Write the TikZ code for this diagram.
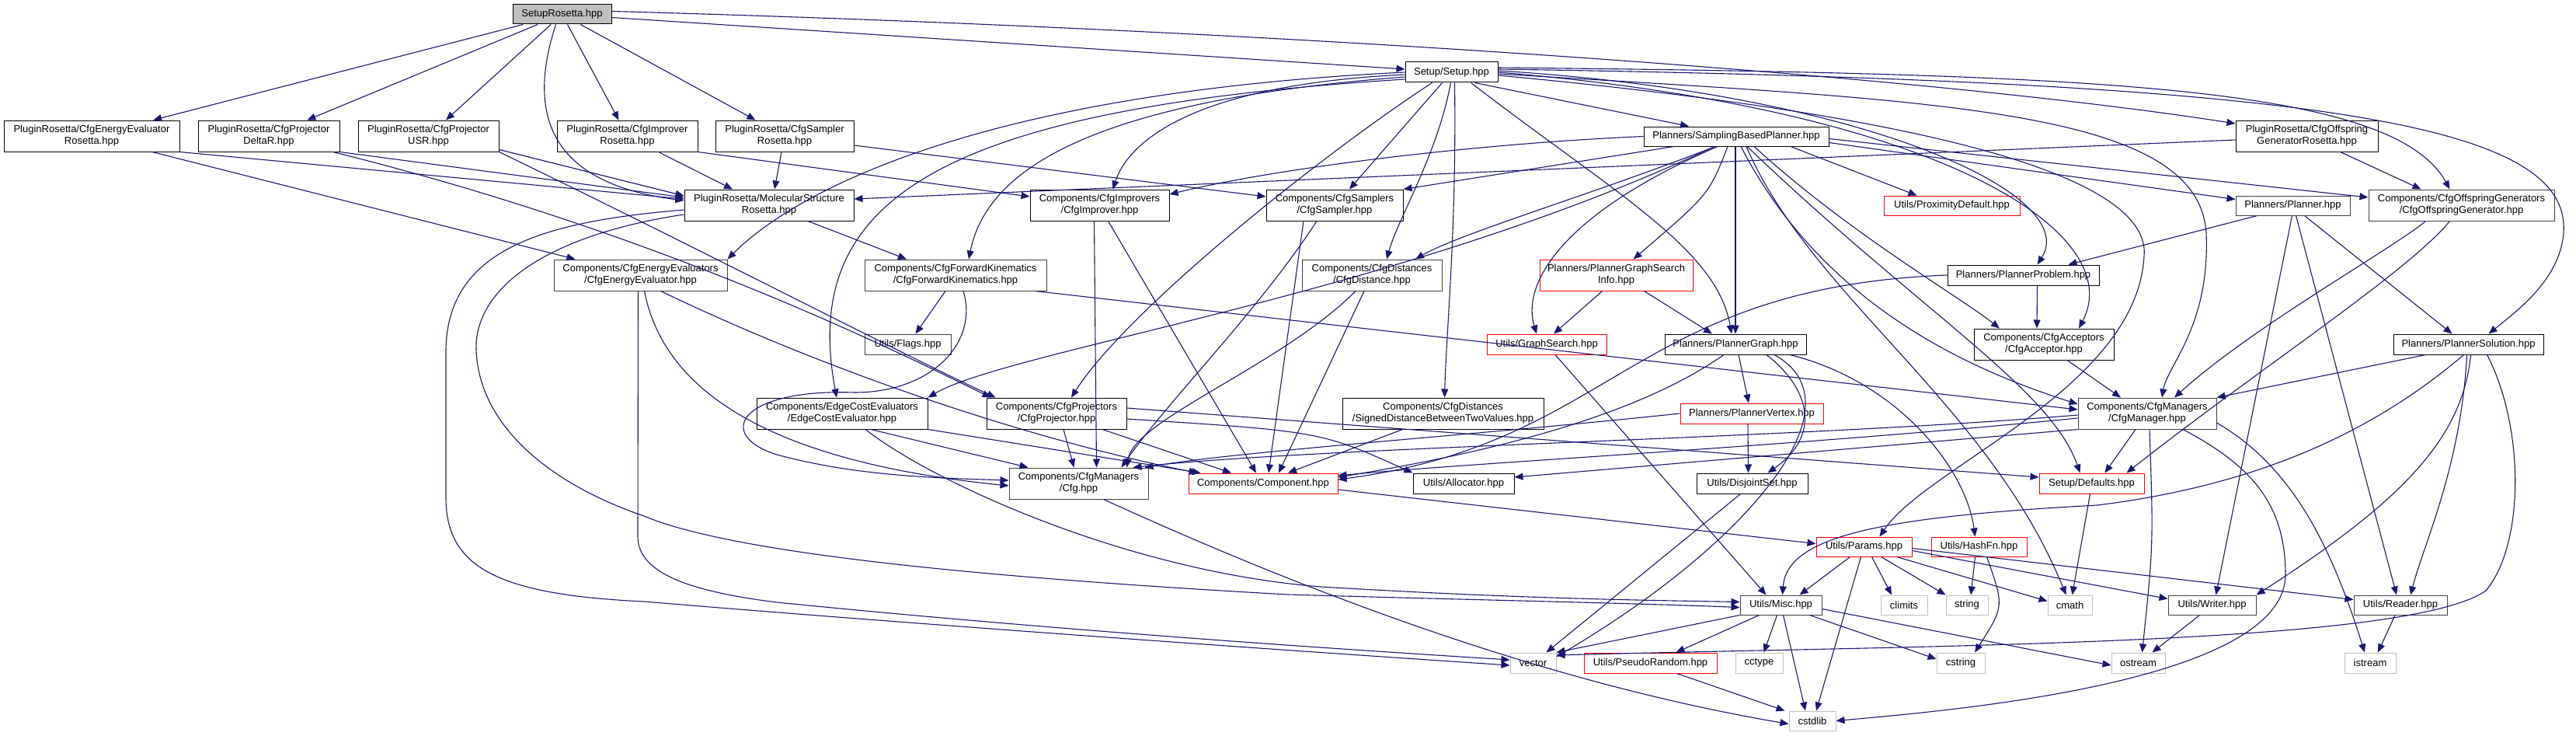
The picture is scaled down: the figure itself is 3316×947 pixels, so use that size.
\documentclass[tikz,border=0pt]{standalone}
\usepackage{fontspec}
\setmainfont{Liberation Sans}
\usetikzlibrary{arrows.meta}
\definecolor{eb}{HTML}{191970}
\definecolor{dg}{HTML}{404040}
\definecolor{lg}{HTML}{BFBFBF}
\definecolor{rd}{HTML}{FF0000}
\begin{document}
\begin{tikzpicture}[x=1pt,y=-1pt,
 nb/.style={draw=black,line width=1pt,fill=white,inner sep=0pt,align=center,font=\fontsize{13}{15}\selectfont},
 gb/.style={nb,draw=dg},
 rb/.style={nb,draw=rd},
 sb/.style={nb,draw=lg},
 e/.style={draw=eb,line width=1.1pt,-{Triangle[length=11pt,width=9pt]}}]
\useasboundingbox (0,0) rectangle (3316,947);
\fill[white] (0,0) rectangle (3316,947);
% nodes
\node[nb,fill=lg,minimum width=127pt,minimum height=25pt] (SR) at (723.5,18.5) {SetupRosetta.hpp};
\node[nb,minimum width=226pt,minimum height=40pt] (ER) at (118,175) {PluginRosetta/CfgEnergyEvaluator\\Rosetta.hpp};
\node[nb,minimum width=182pt,minimum height=40pt] (DR) at (346,175) {PluginRosetta/CfgProjector\\DeltaR.hpp};
\node[nb,minimum width=181pt,minimum height=40pt] (UR) at (551.5,175) {PluginRosetta/CfgProjector\\USR.hpp};
\node[nb,minimum width=181pt,minimum height=40pt] (IR) at (807.5,175) {PluginRosetta/CfgImprover\\Rosetta.hpp};
\node[nb,minimum width=178pt,minimum height=40pt] (SaR) at (1010,175) {PluginRosetta/CfgSampler\\Rosetta.hpp};
\node[nb,minimum width=183pt,minimum height=40pt] (OGR) at (2969.5,175) {PluginRosetta/CfgOffspring\\GeneratorRosetta.hpp};
\node[nb,minimum width=119pt,minimum height=26pt] (SU) at (1868.5,93) {Setup/Setup.hpp};
\node[nb,minimum width=218pt,minimum height=40pt] (MS) at (990,264) {PluginRosetta/MolecularStructure\\Rosetta.hpp};
\node[nb,minimum width=179pt,minimum height=40pt] (CI) at (1415.5,264) {Components/CfgImprovers\\/CfgImprover.hpp};
\node[nb,minimum width=176pt,minimum height=40pt] (CS) at (1718,264) {Components/CfgSamplers\\/CfgSampler.hpp};
\node[nb,minimum width=238pt,minimum height=25pt] (SBP) at (2235,175.5) {Planners/SamplingBasedPlanner.hpp};
\node[rb,minimum width=175pt,minimum height=25pt] (PD) at (2512.5,264.5) {Utils/ProximityDefault.hpp};
\node[gb,minimum width=147pt,minimum height=25pt] (PL) at (2951.5,264.5) {Planners/Planner.hpp};
\node[gb,minimum width=239pt,minimum height=40pt] (COG) at (3168.5,264) {Components/CfgOffspringGenerators\\/CfgOffspringGenerator.hpp};
\node[gb,minimum width=223pt,minimum height=40pt] (CEE) at (824.5,354) {Components/CfgEnergyEvaluators\\/CfgEnergyEvaluator.hpp};
\node[gb,minimum width=234pt,minimum height=40pt] (CFK) at (1230,354) {Components/CfgForwardKinematics\\/CfgForwardKinematics.hpp};
\node[gb,minimum width=180pt,minimum height=40pt] (CD) at (1766,354) {Components/CfgDistances\\/CfgDistance.hpp};
\node[rb,minimum width=197pt,minimum height=40pt] (PGSI) at (2080.5,354) {Planners/PlannerGraphSearch\\Info.hpp};
\node[nb,minimum width=195pt,minimum height=26pt] (PP) at (2604.5,354) {Planners/PlannerProblem.hpp};
\node[gb,minimum width=111pt,minimum height=26pt] (FL) at (1168.5,443) {Utils/Flags.hpp};
\node[rb,minimum width=154pt,minimum height=26pt] (GS) at (1991,443) {Utils/GraphSearch.hpp};
\node[nb,minimum width=182pt,minimum height=26pt] (PG) at (2234,443) {Planners/PlannerGraph.hpp};
\node[nb,minimum width=180pt,minimum height=40pt] (CA) at (2631,443) {Components/CfgAcceptors\\/CfgAcceptor.hpp};
\node[nb,minimum width=193pt,minimum height=26pt] (PS) at (3177.5,443) {Planners/PlannerSolution.hpp};
\node[nb,minimum width=220pt,minimum height=40pt] (ECE) at (1084,532) {Components/EdgeCostEvaluators\\/EdgeCostEvaluator.hpp};
\node[nb,minimum width=180pt,minimum height=40pt] (CP) at (1360,532) {Components/CfgProjectors\\/CfgProjector.hpp};
\node[nb,minimum width=259pt,minimum height=40pt] (SD) at (1857.5,532) {Components/CfgDistances\\/SignedDistanceBetweenTwoValues.hpp};
\node[rb,minimum width=184pt,minimum height=26pt] (PV) at (2255,532) {Planners/PlannerVertex.hpp};
\node[gb,minimum width=178pt,minimum height=40pt] (CM) at (2764,532) {Components/CfgManagers\\/CfgManager.hpp};
\node[gb,minimum width=179pt,minimum height=40pt] (CFG) at (1388.5,622) {Components/CfgManagers\\/Cfg.hpp};
\node[rb,minimum width=192pt,minimum height=26pt] (CO) at (1626,622) {Components/Component.hpp};
\node[nb,minimum width=130pt,minimum height=26pt] (AL) at (1884,622) {Utils/Allocator.hpp};
\node[nb,minimum width=143pt,minimum height=26pt] (DS) at (2255.5,622) {Utils/DisjointSet.hpp};
\node[rb,minimum width=135pt,minimum height=26pt] (DF) at (2692.5,622) {Setup/Defaults.hpp};
\node[rb,minimum width=123pt,minimum height=25pt] (PA) at (2399.5,703.5) {Utils/Params.hpp};
\node[rb,minimum width=123pt,minimum height=25pt] (HF) at (2547.5,703.5) {Utils/HashFn.hpp};
\node[gb,minimum width=105pt,minimum height=25pt] (MI) at (2292.5,778.5) {Utils/Misc.hpp};
\node[sb,minimum width=60pt,minimum height=25pt] (CL) at (2451,778.5) {climits};
\node[sb,minimum width=54pt,minimum height=25pt] (ST) at (2532,778.5) {string};
\node[sb,minimum width=57pt,minimum height=25pt] (CMa) at (2664.5,778.5) {cmath};
\node[gb,minimum width=113pt,minimum height=25pt] (WR) at (2847.5,778.5) {Utils/Writer.hpp};
\node[gb,minimum width=120pt,minimum height=25pt] (RD) at (3090,778.5) {Utils/Reader.hpp};
\node[sb,minimum width=59pt,minimum height=26pt] (VE) at (1973.5,853) {vector};
\node[rb,minimum width=171pt,minimum height=26pt] (PR) at (2124.5,853) {Utils/PseudoRandom.hpp};
\node[sb,minimum width=61pt,minimum height=26pt] (CC) at (2264.5,853) {cctype};
\node[sb,minimum width=62pt,minimum height=26pt] (CSt) at (2524,853) {cstring};
\node[sb,minimum width=69pt,minimum height=26pt] (OS) at (2752.5,853) {ostream};
\node[sb,minimum width=66pt,minimum height=26pt] (IS) at (3051,853) {istream};
\node[sb,minimum width=60pt,minimum height=25pt] (CSL) at (2333,927.5) {cstdlib};
% SR
\draw[e] (SR) -- (ER);
\draw[e] (SR) -- (DR);
\draw[e] (SR) -- (UR);
\draw[e] (SR) -- (IR);
\draw[e] (SR) -- (SaR);
\draw[e] ([xshift=-8pt]SR.south) .. controls (680,140) and (700,235) .. ([yshift=6pt]MS.west);
\draw[e] ([yshift=-4pt]SR.east) -- ([yshift=4pt]SU.west);
\draw[e] ([yshift=4pt]SR.east) .. controls (1700,40) and (2500,100) .. ([yshift=16pt]OGR.west);
% plugins
\draw[e] (ER.south east) -- ([yshift=8pt]MS.west);
\draw[e] ([xshift=78pt]ER.south) -- ([xshift=-84pt]CEE.north);
\draw[e] (DR.south east) -- ([yshift=10pt]MS.west);
\draw[e] ([xshift=-9pt]DR.south east) .. controls (850,300) and (1150,450) .. ([xshift=6pt]CP.north west);
\draw[e] ([yshift=3pt]UR.south east) -- ([yshift=12pt]MS.west);
\draw[e] (UR.south east) .. controls (900,320) and (1170,460) .. ([xshift=12pt]CP.north west);
\draw[e] ([xshift=40pt]IR.south) -- ([xshift=-47pt]MS.north);
\draw[e] (IR.south east) -- ([yshift=11pt]CI.west);
\draw[e] ([xshift=-4pt]SaR.south) -- ([xshift=7pt]MS.north);
\draw[e] ([yshift=-12pt]SaR.east) -- ([yshift=11pt]CS.west);
\draw[e] ([yshift=-5pt]OGR.west) -- ([yshift=8pt]MS.east);
\draw[e] ([xshift=43pt]OGR.south) -- ([xshift=-52pt]COG.north);
% MS
\draw[e] ([xshift=50pt]MS.south) -- ([xshift=-63pt]CFK.north);
\draw[e] ([yshift=-6pt]MS.west) .. controls (700,285) and (576,320) .. (574,450) -- (574,640) .. controls (574,730) and (640,765) .. (829,774) .. controls (1200,805) and (1700,840) .. ([yshift=-3pt]VE.west);
\draw[e] ([yshift=-12pt]MS.west) .. controls (720,300) and (620,360) .. (613,440) .. controls (610,540) and (700,620) .. (829,664) .. controls (950,715) and (1300,745) .. (1658,765) .. controls (1900,772) and (2100,776) .. ([yshift=-3pt]MI.west);
% Setup
\draw[e] (SU.west) .. controls (1250,120) and (1020,250) .. (CEE.north east);
\draw[e] ([yshift=-3pt]SU.west) .. controls (1520,110) and (1450,190) .. ([xshift=17pt]CI.north);
\draw[e] ([xshift=-12pt]SU.south) -- ([xshift=19pt]CS.north);
\draw[e] ([xshift=30pt]SU.south) -- ([xshift=-61pt]SBP.north);
\draw[e] ([yshift=-6pt]SU.west) .. controls (1400,130) and (1270,220) .. ([xshift=17pt]CFK.north);
\draw[e] ([xshift=-1pt]SU.south) .. controls (1850,200) and (1800,280) .. ([xshift=19pt]CD.north);
\draw[e] ([xshift=4pt]SU.south) .. controls (1875,300) and (1862,420) .. ([xshift=2pt]SD.north);
\draw[e] ([xshift=25pt]SU.south) .. controls (2080,250) and (2210,320) .. ([xshift=-5pt]PG.north);
\draw[e] ([yshift=-9pt]SU.west) .. controls (1200,140) and (1030,260) .. ([xshift=-7pt]ECE.north);
\draw[e] ([xshift=-25pt]SU.south) .. controls (1700,200) and (1450,400) .. ([xshift=19pt]CP.north);
\draw[e] ([yshift=2pt]SU.east) .. controls (2400,120) and (2680,250) .. ([xshift=18pt]PP.north);
\draw[e] (SU.east) .. controls (2500,140) and (2740,300) .. ([xshift=45pt]CA.north);
\draw[e] ([yshift=-2pt]SU.east) .. controls (2500,130) and (2830,140) .. (2840,300) .. controls (2845,420) and (2790,470) .. ([xshift=19pt]CM.north);
\draw[e] ([yshift=6pt]SU.east) .. controls (2700,95) and (3080,110) .. ([xshift=-15pt]COG.north);
\draw[e] ([yshift=4pt]SU.east) .. controls (3000,105) and (3310,160) .. (3300,300) .. controls (3295,360) and (3240,400) .. ([xshift=26pt]PS.north);
\draw[e] ([yshift=-4pt]SU.east) .. controls (2500,150) and (2770,230) .. (2760,330) .. controls (2750,500) and (2480,600) .. ([xshift=20pt]PA.north);
% SBP
\draw[e] (SBP.west) .. controls (1900,185) and (1650,215) .. ([yshift=14pt]CI.east);
\draw[e] ([xshift=-80pt]SBP.south) -- (CS.north east);
\draw[e] ([xshift=-27pt]SBP.south) .. controls (2050,250) and (1880,300) .. ([xshift=56pt]CD.north);
\draw[e] ([xshift=70pt]SBP.south) -- ([xshift=-45pt]PD.north);
\draw[e] ([yshift=-8pt]SBP.east) -- ([yshift=8pt]PL.west);
\draw[e] ([yshift=-3pt]SBP.east) -- ([yshift=10pt]COG.west);
\draw[e] ([xshift=-11pt]SBP.south) .. controls (2200,250) .. ([xshift=22pt]PGSI.north);
\draw[e] ([xshift=-24pt]SBP.south) .. controls (2000,280) and (1960,370) .. ([xshift=-13pt]GS.north);
\draw[e] ([xshift=-1pt]SBP.south) -- ([xshift=0pt]PG.north);
\draw[e] ([xshift=23pt]SBP.south) .. controls (2380,300) and (2520,380) .. ([xshift=-57pt]CA.north);
\draw[e] ([xshift=-28pt]SBP.south) .. controls (1800,380) and (1300,450) .. (ECE.north east);
\draw[e] ([xshift=6pt]SBP.south) .. controls (2350,400) and (2550,480) .. ([yshift=12pt]CM.west);
\draw[e] ([xshift=14pt]SBP.south) .. controls (2470,400) and (2640,500) .. ([xshift=-15pt]DF.north);
\draw[e] ([xshift=13pt]SBP.south) .. controls (2330,380) and (2560,520) .. ([xshift=-5pt]CMa.north);
% PGSI
\draw[e] ([xshift=-18pt]PGSI.south) -- ([xshift=9pt]GS.north);
\draw[e] ([xshift=36pt]PGSI.south) -- ([xshift=-30pt]PG.north);
% PG
\draw[e] ([xshift=4pt]PG.south) -- ([xshift=-4pt]PV.north);
\draw[e] ([xshift=40pt]PG.south) .. controls (2330,500) and (2345,560) .. ([xshift=20pt]DS.north);
\draw[e] ([xshift=-15pt]PG.south) .. controls (2100,540) and (1900,585) .. ([yshift=8pt]CO.east);
\draw[e] ([xshift=50pt]PG.south) .. controls (2400,520) and (2250,700) .. ([yshift=8pt]VE.east);
\draw[e] ([xshift=70pt]PG.south) .. controls (2440,490) and (2530,600) .. ([xshift=-5pt]HF.north);
% PV
\draw[e] ([xshift=-5pt]PV.south) -- ([xshift=-5pt]DS.north);
\draw[e] (PV.west) .. controls (1900,560) and (1600,580) .. ([xshift=-5pt]CFG.north east);
% GS
\draw[e] ([xshift=11pt]GS.south) -- ([xshift=-19pt]MI.north);
% PP
\draw[e] ([xshift=18pt]PP.south) -- ([xshift=-9pt]CA.north);
\draw[e] (PP.west) .. controls (2100,370) and (2080,570) .. ([yshift=5pt]CO.east);
% PL
\draw[e] ([xshift=-46pt]PL.south) -- ([xshift=58pt]PP.north);
\draw[e] ([xshift=15pt]PL.south) -- ([xshift=-21pt]PS.north);
\draw[e] ([xshift=-1pt]PL.south) -- ([xshift=5pt]WR.north);
\draw[e] ([xshift=4pt]PL.south) -- ([xshift=-5pt]RD.north);
% PS
\draw[e] ([xshift=-55pt]PS.south) -- (CM.north east);
\draw[e] ([xshift=-6pt]PS.south) .. controls (3050,560) and (2900,625) .. (2700,650) .. controls (2420,665) and (2300,690) .. ([xshift=2pt]MI.north);
\draw[e] ([xshift=3pt]PS.south) .. controls (3170,560) and (3100,640) .. (WR.north east);
\draw[e] ([xshift=-2pt]PS.south) .. controls (3168,600) and (3120,700) .. ([xshift=13pt]RD.north);
\draw[e] ([xshift=24pt]PS.south) .. controls (3250,550) and (3250,700) .. (3200,760) .. controls (3100,830) and (2500,830) .. ([yshift=10pt]VE.east);
% CA
\draw[e] ([xshift=30pt]CA.south) -- ([xshift=-34pt]CM.north);
% CM
\draw[e] ([xshift=-15pt]CM.south) -- ([xshift=17pt]DF.north);
\draw[e] ([yshift=-2pt]CM.west) .. controls (2300,565) and (1700,575) .. ([xshift=-20pt]CFG.north east);
\draw[e] ([yshift=-6pt]CM.west) .. controls (2300,575) and (1900,595) .. ([yshift=10pt]CO.east);
\draw[e] (CM.south west) -- ([yshift=8pt]AL.east);
\draw[e] ([xshift=3pt]CM.south) .. controls (2772,700) .. ([xshift=5pt]OS.north);
\draw[e] ([xshift=46pt]CM.south) .. controls (2900,600) and (2942,650) .. (2942,740) .. controls (2940,880) and (2500,915) .. (CSL.east);
\draw[e] ([yshift=-12pt]CM.east) .. controls (2950,600) and (3000,700) .. ([xshift=-7pt]IS.north);
% COG
\draw[e] ([xshift=-46pt]COG.south) .. controls (3080,320) and (2900,420) .. ([xshift=35pt]CM.north);
\draw[e] ([xshift=-15pt]COG.south) .. controls (3100,350) and (2900,480) .. ([xshift=45pt]DF.north);
% CFK
\draw[e] ([xshift=-13pt]CFK.south) -- ([xshift=10pt]FL.north);
\draw[e] ([xshift=-15pt]CFK.south east) -- ([yshift=5pt]CM.west);
\draw[e] ([xshift=10pt]CFK.south) .. controls (1260,440) and (1200,505) .. (1100,505) .. controls (950,500) and (920,560) .. (1000,585) .. controls (1100,612) and (1200,615) .. ([yshift=4pt]CFG.west);
% CEE
\draw[e] ([xshift=5pt]CEE.south) .. controls (850,480) and (950,590) .. ([yshift=-3pt]CFG.west);
\draw[e] ([xshift=26pt]CEE.south) .. controls (1040,466) and (1300,560) .. ([xshift=12pt]CO.north west);
\draw[e] ([xshift=-3pt]CEE.south) -- (821,690) .. controls (821,735) and (880,760) .. (1000,775) .. controls (1400,815) and (1800,840) .. ([yshift=4pt]VE.west);
% ECE
\draw[e] ([xshift=37pt]ECE.south) -- ([xshift=-65pt]CFG.north);
\draw[e] (ECE.south east) -- ([xshift=16pt]CO.north west);
\draw[e] ([xshift=30pt]ECE.south) .. controls (1200,620) and (1450,735) .. (1700,755) .. controls (1950,770) and (2100,772) .. ([yshift=4pt]MI.west);
% CP
\draw[e] ([xshift=9pt]CP.south) -- ([xshift=-6pt]CFG.north);
\draw[e] ([xshift=59pt]CP.south) -- ([xshift=-41pt]CO.north);
\draw[e] ([yshift=-7pt]CP.east) .. controls (1700,555) .. (AL.north west);
\draw[e] ([yshift=7pt]CP.east) -- ([yshift=8pt]DF.west);
% CI
\draw[e] ([xshift=-7pt]CI.south) -- ([xshift=23pt]CFG.north);
\draw[e] ([xshift=11pt]CI.south) -- ([xshift=-9pt]CO.north);
% CS
\draw[e] ([xshift=-23pt]CS.south) .. controls (1620,400) and (1500,520) .. ([xshift=-35pt]CFG.north east);
\draw[e] ([xshift=-40pt]CS.south) -- ([xshift=7pt]CO.north);
% CD
\draw[e] ([xshift=-21pt]CD.south) .. controls (1650,470) and (1460,540) .. ([xshift=-28pt]CFG.north east);
\draw[e] ([xshift=-10pt]CD.south) -- ([xshift=20pt]CO.north);
% SD
\draw[e] ([xshift=-52pt]SD.south) -- ([xshift=32pt]CO.north);
% CO
\draw[e] ([yshift=-8pt]CO.east) -- ([yshift=4pt]PA.west);
% Cfg
\draw[e] ([xshift=32pt]CFG.south) .. controls (1700,770) and (2000,880) .. ([yshift=-4pt]CSL.west);
% DS, DF
\draw[e] ([xshift=-15pt]DS.south) -- ([xshift=17pt]VE.north);
\draw[e] ([xshift=-2pt]DF.south) -- ([xshift=3pt]CMa.north);
% PA
\draw[e] ([xshift=-18pt]PA.south) -- ([xshift=24pt]MI.north);
\draw[e] ([xshift=-4pt]PA.south) -- ([xshift=5pt]CSL.north);
\draw[e] ([xshift=10pt]PA.south) -- ([xshift=-16pt]CL.north);
\draw[e] ([xshift=22pt]PA.south) -- (ST.north west);
\draw[e] ([xshift=42pt]PA.south) -- ([yshift=5pt]CMa.west);
\draw[e] ([yshift=-5pt]PA.east) -- ([yshift=8pt]WR.west);
\draw[e] ([yshift=-2pt]PA.east) -- ([yshift=7pt]RD.west);
% HF
\draw[e] ([xshift=-5pt]HF.south) -- ([xshift=5pt]ST.north);
\draw[e] ([xshift=10pt]HF.south) .. controls (2580,780) .. ([xshift=18pt]CSt.north);
% MI
\draw[e] (MI.south west) -- (VE.north east);
\draw[e] ([xshift=-28pt]MI.south) -- ([xshift=33pt]PR.north);
\draw[e] ([xshift=-5pt]MI.south) -- ([xshift=6pt]CC.north);
\draw[e] ([xshift=3pt]MI.south) -- ([xshift=-9pt]CSL.north);
\draw[e] ([xshift=37pt]MI.south) -- ([yshift=5pt]CSt.west);
\draw[e] ([yshift=-5pt]MI.east) -- ([yshift=-3pt]OS.west);
% PR, WR, RD
\draw[e] ([xshift=34pt]PR.south) -- ([xshift=-5pt]CSL.north west);
\draw[e] ([xshift=-16pt]WR.south) -- ([xshift=18pt]OS.north);
\draw[e] ([xshift=-7pt]RD.south) -- ([xshift=10pt]IS.north);
\end{tikzpicture}
\end{document}
